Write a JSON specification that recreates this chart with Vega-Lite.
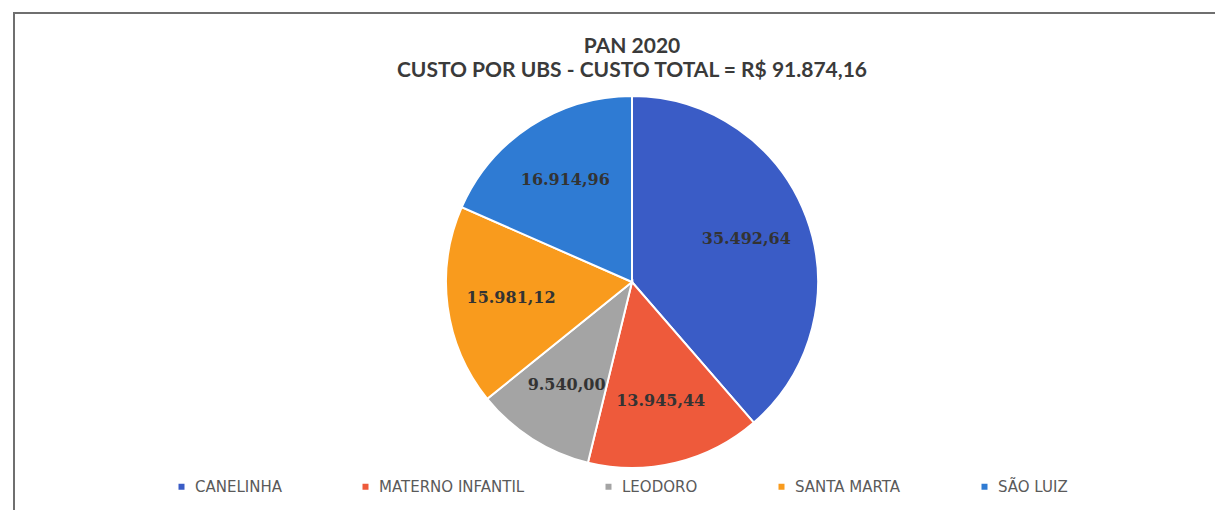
{
  "$schema": "https://vega.github.io/schema/vega-lite/v6.json",
  "width": 1236,
  "height": 538,
  "padding": {"left": 14, "top": 13, "right": 0, "bottom": 0},
  "background": "white",
  "view": {"stroke": "#6f6f6f", "strokeWidth": 2, "fill": "white"},
  "config": {
    "view": {"stroke": "#6f6f6f", "strokeWidth": 2},
    "font": "Lato"
  },
  "title": {
    "text": ["PAN 2020", "CUSTO POR UBS - CUSTO TOTAL = R$ 91.874,16"],
    "anchor": "middle",
    "frame": "group",
    "offset": -68,
    "fontSize": 21,
    "fontWeight": "bold",
    "font": "Lato",
    "color": "#3a3a3a",
    "lineHeight": 24
  },
  "data": {
    "values": [
      {"ubs": "CANELINHA", "valor": 35492.64, "rotulo": "35.492,64", "ordem": 1},
      {"ubs": "MATERNO INFANTIL", "valor": 13945.44, "rotulo": "13.945,44", "ordem": 2},
      {"ubs": "LEODORO", "valor": 9540.00, "rotulo": "9.540,00", "ordem": 3},
      {"ubs": "SANTA MARTA", "valor": 15981.12, "rotulo": "15.981,12", "ordem": 4},
      {"ubs": "SÃO LUIZ", "valor": 16914.96, "rotulo": "16.914,96", "ordem": 5}
    ]
  },
  "encoding": {
    "theta": {"field": "valor", "type": "quantitative", "stack": true},
    "order": {"field": "ordem", "type": "quantitative"},
    "color": {
      "field": "ubs",
      "type": "nominal",
      "scale": {
        "domain": ["CANELINHA", "MATERNO INFANTIL", "LEODORO", "SANTA MARTA", "SÃO LUIZ"],
        "range": ["#3a5cc6", "#ee5a3b", "#a4a4a4", "#f99b1d", "#2f7bd3"]
      },
      "legend": {
        "title": null,
        "orient": "none",
        "direction": "horizontal",
        "legendX": 160,
        "legendY": 466,
        "symbolType": "square",
        "symbolSize": 36,
        "symbolStrokeWidth": 0,
        "labelFontSize": 15,
        "labelColor": "#5a5a5a",
        "labelFont": "DejaVu Sans",
        "columnPadding": 76,
        "labelOffset": 6
      }
    }
  },
  "layer": [
    {
      "mark": {"type": "arc", "outerRadius": 186, "stroke": "white", "strokeWidth": 2}
    },
    {
      "mark": {"type": "text", "radius": 122, "fontSize": 16, "fontWeight": "bold", "font": "DejaVu Serif", "fill": "#333333"},
      "encoding": {
        "text": {"field": "rotulo", "type": "nominal"},
        "color": {"value": "#333333"}
      }
    }
  ]
}
